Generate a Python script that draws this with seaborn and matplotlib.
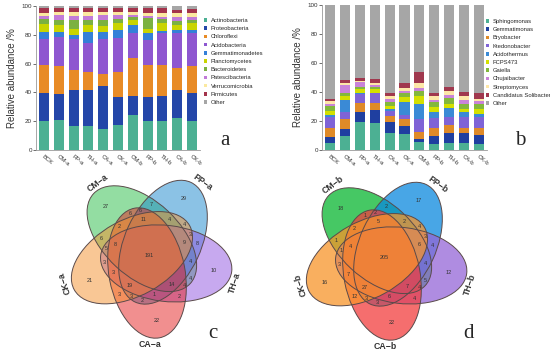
import numpy as np
import pandas as pd
import seaborn as sns
import matplotlib
matplotlib.use("Agg")
from matplotlib import pyplot as plt
from matplotlib.patches import Ellipse, Patch

samples = ["BCK", "CM-a", "PP-a", "TH-a", "CA-a", "CK-a",
           "CM-b", "PP-b", "TH-b", "CA-b", "CK-b"]

# panel a: phylum level relative abundance (%)
actinobacteria = [20.4, 21.0, 16.5, 16.4, 14.4, 17.4, 24.3, 20.1, 20.4, 22.0, 20.4]
proteobacteria = [19.0, 17.7, 25.5, 25.3, 30.0, 19.6, 13.2, 16.5, 17.1, 20.0, 19.0]
chloroflexi = [19.6, 19.8, 13.5, 12.3, 8.6, 17.5, 26.5, 22.4, 21.5, 15.0, 19.1]
acidobacteria = [18.0, 20.0, 21.5, 20.0, 24.0, 23.5, 17.0, 17.4, 22.0, 24.0, 22.5]
gemmatimonadetes = [5.0, 3.5, 3.0, 8.0, 5.0, 5.0, 5.5, 4.6, 1.5, 2.3, 2.3]
planctomycetes = [5.5, 4.5, 4.0, 5.0, 4.0, 5.0, 3.5, 3.0, 5.5, 3.5, 4.7]
bacteroidetes = [3.2, 3.5, 6.0, 3.0, 4.0, 3.0, 2.6, 7.4, 2.7, 3.0, 2.3]
patescibacteria = [2.3, 3.5, 3.0, 3.0, 3.5, 2.5, 1.4, 1.6, 1.9, 2.8, 2.3]
verrucomicrobia = [2.0, 2.0, 2.5, 3.0, 2.5, 2.5, 1.8, 2.0, 2.4, 2.4, 2.4]
firmicutes = [3.4, 3.0, 3.0, 2.5, 2.5, 2.5, 3.0, 3.4, 3.4, 2.5, 2.7]
other_phyla = [1.6, 1.5, 1.5, 1.5, 1.5, 1.5, 1.2, 1.6, 1.6, 2.5, 2.3]

phyla = ["Actinobacteria", "Proteobacteria", "Chloroflexi", "Acidobacteria",
         "Gemmatimonadetes", "Planctomycetes", "Bacteroidetes",
         "Patescibacteria", "Verrucomicrobia", "Firmicutes", "Other"]
phylum_colors = ["#4cb093", "#2446a8", "#e88b26", "#8e57d0", "#3480d8",
                 "#c9d400", "#7bb141", "#c17bd8", "#fbe9a0", "#a3344c",
                 "#a6a6a6"]

# panel b: genus level relative abundance (%)
sphingomonas = [4.6, 10.0, 19.5, 18.5, 12.0, 11.0, 5.5, 4.0, 4.5, 5.0, 4.0]
gemmatimonas = [4.6, 4.5, 7.0, 9.0, 7.0, 5.5, 2.0, 5.5, 7.0, 6.5, 6.5]
bryobacter = [5.8, 7.0, 5.8, 5.0, 4.5, 5.0, 5.0, 5.5, 5.5, 4.0, 4.5]
ktedonobacter = [7.5, 5.0, 6.2, 6.5, 3.5, 2.5, 9.0, 7.0, 6.0, 7.5, 8.0]
acidothermus = [1.5, 8.0, 0.5, 0.5, 1.0, 9.0, 10.5, 4.5, 6.0, 3.0, 2.0]
fcps473 = [3.0, 2.5, 3.0, 2.5, 2.5, 3.5, 5.5, 3.5, 2.5, 2.5, 3.5]
gaiella = [3.5, 2.5, 1.6, 1.5, 2.5, 2.5, 3.0, 3.0, 4.5, 3.5, 3.5]
chujaibacter = [1.5, 5.0, 3.0, 1.5, 2.0, 2.0, 2.5, 1.5, 2.0, 2.5, 1.5]
streptomyces = [1.5, 1.5, 1.0, 1.0, 2.5, 1.5, 3.0, 2.5, 2.5, 2.5, 2.0]
solibacter = [2.0, 2.0, 2.4, 3.0, 1.5, 4.0, 8.0, 2.0, 3.0, 3.0, 4.0]
other_genera = [64.5, 52.0, 50.0, 51.0, 61.0, 53.5, 46.0, 61.0, 56.5, 60.0, 60.5]

genera = ["Sphingomonas", "Gemmatimonas", "Bryobacter", "Ktedonobacter",
          "Acidothermus", "FCPS473", "Gaiella", "Chujaibacter",
          "Streptomyces", "Candidatus Solibacter", "Other"]
genus_colors = ["#4cb093", "#1f3fa0", "#df8a28", "#7f63d6", "#3a8ad6",
                "#d4e000", "#83b83c", "#c983d9", "#fde7a8", "#a0384e",
                "#a6a6a6"]

# venn diagrams: shared / unique OTUs
venn_sets = ["CM", "PP", "TH", "CA", "CK"]
venn_regions = [
    "CM", "PP", "TH", "CA", "CK",
    "CM&PP", "PP&TH", "TH&CA", "CA&CK", "CK&CM",
    "CM&CA", "PP&CK", "TH&CM", "CA&PP", "CK&TH",
    "CM&PP&CA", "PP&TH&CK", "TH&CA&CM", "CA&CK&PP", "CK&CM&TH",
    "CK&CM&PP", "CM&PP&TH", "PP&TH&CA", "TH&CA&CK", "CA&CK&CM",
    "CM&PP&CA&CK", "CM&PP&TH&CK", "CM&PP&TH&CA", "PP&TH&CA&CK", "CM&TH&CA&CK",
    "CM&PP&TH&CA&CK",
]
venn_c_counts = [27, 29, 10, 22, 21,
                 7, 8, 2, 3, 6,
                 6, 4, 4, 2, 3,
                 6, 3, 4, 3, 5,
                 4, 4, 1, 3, 2,
                 11, 9, 14, 19, 8,
                 191]
venn_d_counts = [18, 17, 12, 22, 16,
                 2, 4, 4, 12, 1,
                 1, 4, 5, 3, 3,
                 2, 3, 4, 3, 1,
                 2, 4, 6, 7, 2,
                 5, 6, 7, 27, 4,
                 205]
venn_c_colors = ["#29bd47", "#1987cd", "#9155e1", "#e52020", "#f5912d"]
venn_d_colors = ["#08b630", "#0a88de", "#9466d7", "#f23e3e", "#f8942a"]

sns.set_style("white")
plt.rcParams["font.family"] = ["Liberation Sans", "DejaVu Sans"]

W, H = 550, 356
fig = plt.figure(figsize=(5.5, 3.56), dpi=100)


def px_axes(left, top, right, bottom):
    return fig.add_axes([left / W, 1 - bottom / H, (right - left) / W,
                         (bottom - top) / H])


def stacked_panel(ax, series, names, colors):
    df = pd.DataFrame(dict(zip(names, series)))
    df["sample"] = samples
    cum = df[names].cumsum(axis=1)
    # draw tallest cumulative first so lower segments overlay it
    for name, color in reversed(list(zip(names, colors))):
        sns.barplot(x=df["sample"], y=cum[name], color=color, width=0.68,
                    saturation=1, linewidth=0, ax=ax)
    ax.set_ylim(0, 100)
    ax.set_xlim(-0.55, len(samples) - 0.45)
    ax.set_yticks(range(0, 101, 20))
    ax.tick_params(axis="y", labelsize=4.5, length=2, width=0.5, pad=1,
                   left=True, colors="#333333")
    ax.set_xticks(range(len(samples)))
    ax.set_xticklabels(samples, rotation=-40, ha="left", va="top",
                       rotation_mode="anchor", fontsize=4.3, color="#333333")
    ax.tick_params(axis="x", length=0, pad=3)
    ax.set_xlabel("")
    ax.set_ylabel("Relative abundance /%", fontsize=7, color="#333333",
                  labelpad=3)
    for side in ["top", "right"]:
        ax.spines[side].set_visible(False)
    for side in ["left", "bottom"]:
        ax.spines[side].set_color("#999999")
        ax.spines[side].set_linewidth(0.6)


def add_legend(names, colors, x, y):
    handles = [Patch(facecolor=c, edgecolor="none", label=n)
               for n, c in zip(names, colors)]
    fig.legend(handles=handles, loc="upper left",
               bbox_to_anchor=(x / W, 1 - y / H), frameon=False,
               fontsize=4.2, handlelength=0.55, handleheight=0.55,
               handletextpad=0.6, labelspacing=0.55, borderpad=0,
               borderaxespad=0)


ax_a = px_axes(36, 6, 200, 150)
stacked_panel(ax_a, [actinobacteria, proteobacteria, chloroflexi, acidobacteria,
                     gemmatimonadetes, planctomycetes, bacteroidetes,
                     patescibacteria, verrucomicrobia, firmicutes, other_phyla],
              phyla, phylum_colors)
add_legend(phyla, phylum_colors, 204, 18)

ax_b = px_axes(322, 5, 487, 150)
stacked_panel(ax_b, [sphingomonas, gemmatimonas, bryobacter, ktedonobacter,
                     acidothermus, fcps473, gaiella, chujaibacter, streptomyces,
                     solibacter, other_genera],
              genera, genus_colors)
add_legend(genera, genus_colors, 486, 19)

# ---- five-set venn layout (rotationally symmetric ellipses) ----
venn_angles = [126, 54, -18, -90, 198]
semi_a, semi_b = 66.0, 38.0
shift_r, shift_t, tilt = 18.0, -3.0, 11.0


def venn_shapes():
    shapes = []
    for ang in venn_angles:
        th = np.deg2rad(ang)
        u = np.array([np.cos(th), np.sin(th)])
        t = np.array([-np.sin(th), np.cos(th)])
        shapes.append((shift_r * u + shift_t * t, ang + tilt, u))
    return shapes


def inside(pts, center, rot):
    phi = np.deg2rad(rot)
    d = pts - center
    xr = d[:, 0] * np.cos(phi) + d[:, 1] * np.sin(phi)
    yr = -d[:, 0] * np.sin(phi) + d[:, 1] * np.cos(phi)
    return (xr / semi_a) ** 2 + (yr / semi_b) ** 2 <= 1


def region_anchors(shapes):
    g = np.arange(-92, 93, 1.5)
    gx, gy = np.meshgrid(g, g)
    pts = np.column_stack([gx.ravel(), gy.ravel()])
    member = np.column_stack([inside(pts, c, r) for c, r, _ in shapes])
    tt = np.linspace(0, 2 * np.pi, 240, endpoint=False)
    dist = np.full(len(pts), np.inf)
    for c, r, _ in shapes:
        phi = np.deg2rad(r)
        e1 = np.array([np.cos(phi), np.sin(phi)])
        e2 = np.array([-np.sin(phi), np.cos(phi)])
        bd = c + np.outer(semi_a * np.cos(tt), e1) + np.outer(semi_b * np.sin(tt), e2)
        dd = np.sqrt(((pts[:, None, :] - bd[None, :, :]) ** 2).sum(-1)).min(1)
        dist = np.minimum(dist, dd)
    anchors = {}
    for key in venn_regions:
        want = np.array([s in key.split("&") for s in venn_sets])
        mask = (member == want).all(1)
        if mask.any():
            idx = np.flatnonzero(mask)[np.argmax(dist[mask])]
            anchors[key] = pts[idx]
    return anchors


def venn_panel(ax, counts, colors, suffix, alpha):
    shapes = venn_shapes()
    for (c, r, _), col in zip(shapes, colors):
        ax.add_patch(Ellipse(c, 2 * semi_a, 2 * semi_b, angle=r,
                             facecolor=col, alpha=alpha, edgecolor="none"))
    for c, r, _ in shapes:
        ax.add_patch(Ellipse(c, 2 * semi_a, 2 * semi_b, angle=r,
                             facecolor="none", edgecolor="#5a4a4a",
                             linewidth=0.7))
    anchors = region_anchors(shapes)
    for key, n in zip(venn_regions, counts):
        if key in anchors:
            x, y = anchors[key]
            ax.text(x, y, str(n), fontsize=4, ha="center", va="center",
                    color="#333333")
    rotations = [36, -36, 72, 0, 108]
    for name, (c, r, u), rot in zip(venn_sets, shapes, rotations):
        phi = np.deg2rad(r)
        e1 = np.array([np.cos(phi), np.sin(phi)])
        e2 = np.array([-np.sin(phi), np.cos(phi)])
        h = c @ u + np.sqrt((semi_a * (u @ e1)) ** 2 + (semi_b * (u @ e2)) ** 2)
        x, y = (h + 6) * u
        ax.text(x, y, f"{name}\u2212{suffix}", fontsize=6.3, fontweight="bold",
                color="#333333", ha="center", va="center", rotation=rot)
    ax.set_xlim(-95, 95)
    ax.set_ylim(-95, 95)
    ax.axis("off")


ax_c = px_axes(55, 160, 245, 350)
venn_panel(ax_c, venn_c_counts, venn_c_colors, "a", 0.5)
ax_d = px_axes(290, 162, 480, 352)
venn_panel(ax_d, venn_d_counts, venn_d_colors, "b", 0.75)

for letter, x, y in [("a", 225, 140), ("b", 520, 140), ("c", 213, 333), ("d", 468, 333)]:
    fig.text(x / W, 1 - y / H, letter, fontsize=15, ha="center", va="center",
             family=["Liberation Serif", "DejaVu Serif"])

fig.savefig("out.png", dpi=100)
